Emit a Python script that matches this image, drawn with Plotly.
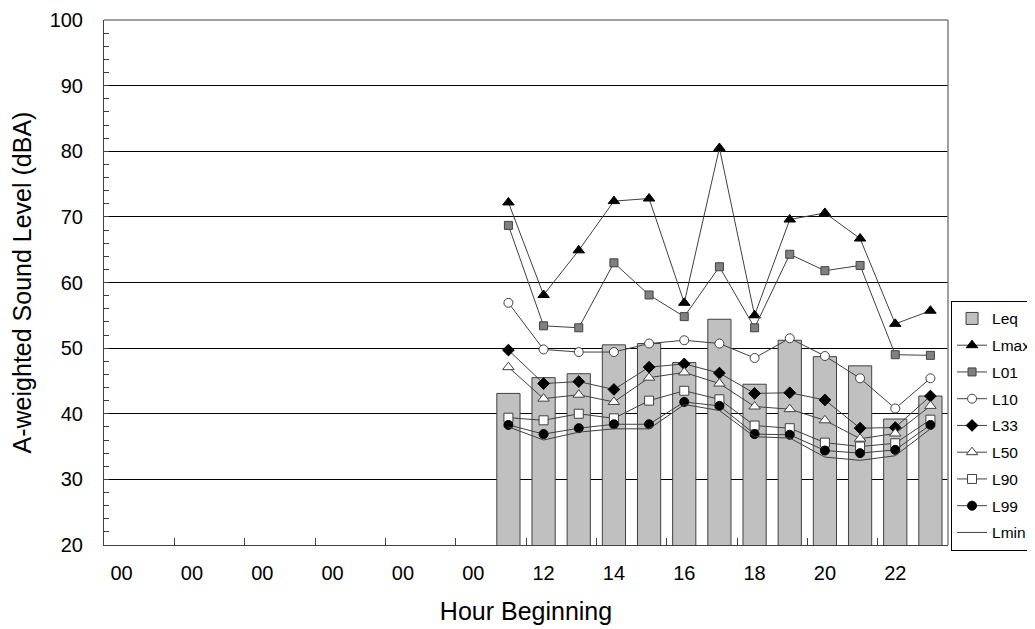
import plotly.graph_objects as go

hours = list(range(11, 24))
tick_positions = list(range(0, 24, 2))
tick_labels = ["00", "00", "00", "00", "00", "00", "12", "14", "16", "18", "20", "22"]

leq = [43.1, 45.5, 46.1, 50.5, 50.7, 47.8, 54.4, 44.5, 51.2, 48.7, 47.3, 39.2, 42.7]
lmax = [72.2, 58.1, 64.9, 72.4, 72.8, 56.9, 80.5, 55.0, 69.6, 70.6, 66.7, 53.7, 55.7]
l01 = [68.7, 53.4, 53.1, 63.0, 58.1, 54.8, 62.4, 53.1, 64.3, 61.8, 62.6, 49.0, 48.9]
l10 = [56.9, 49.8, 49.4, 49.4, 50.7, 51.2, 50.7, 48.5, 51.5, 48.8, 45.4, 40.8, 45.4]
l33 = [49.7, 44.6, 44.9, 43.7, 47.1, 47.6, 46.2, 43.1, 43.2, 42.1, 37.8, 37.9, 42.7]
l50 = [47.1, 42.3, 42.9, 41.8, 45.5, 46.3, 44.6, 41.1, 40.7, 39.0, 36.2, 37.0, 41.2]
l90 = [39.4, 39.0, 40.0, 39.3, 42.0, 43.5, 42.2, 38.2, 37.8, 35.6, 35.0, 35.5, 39.1]
l99 = [38.3, 36.9, 37.8, 38.4, 38.4, 41.8, 41.2, 36.9, 36.8, 34.4, 34.0, 34.5, 38.3]
lmin = [38.0, 36.0, 37.2, 37.7, 37.7, 41.4, 40.5, 36.5, 36.3, 33.4, 32.9, 33.6, 37.7]

LINE = "#404040"
fig = go.Figure()

fig.add_trace(go.Bar(
    x=hours, y=leq, name="Leq", width=0.66,
    marker=dict(color="#c0c0c0", line=dict(color="#404040", width=1)),
    legendgroup="a",
))

series = [
    ("Lmax", lmax, "triangle-up", "#000000", "#000000", 10),
    ("L01", l01, "square", "#808080", "#404040", 8),
    ("L10", l10, "circle", "#ffffff", "#404040", 9),
    ("L33", l33, "diamond", "#000000", "#000000", 9),
    ("L50", l50, "triangle-up", "#ffffff", "#404040", 10),
    ("L90", l90, "square", "#ffffff", "#404040", 9),
    ("L99", l99, "circle", "#000000", "#000000", 9),
]
for i, (name, vals, sym, fill, edge, size) in enumerate(series):
    fig.add_trace(go.Scatter(
        x=hours, y=vals, name=name, mode="lines+markers",
        line=dict(color=LINE, width=1),
        marker=dict(symbol=sym, color=fill, size=size, line=dict(color=edge, width=1)),
        legendgroup="g%d" % i,
    ))

fig.add_trace(go.Scatter(
    x=hours, y=lmin, name="Lmin", mode="lines",
    line=dict(color=LINE, width=1), legendgroup="z",
))

fig.update_layout(
    width=1035, height=629,
    margin=dict(l=96, r=95, t=12, b=92, autoexpand=False),
    paper_bgcolor="white", plot_bgcolor="white",
    font=dict(family="Liberation Sans, Arial, sans-serif", color="#000000"),
    showlegend=True,
    legend=dict(
        x=1.0036, xanchor="left", y=0.465, yanchor="top",
        bgcolor="white", bordercolor="#000000", borderwidth=1,
        font=dict(size=15.5, color="#000000"),
        traceorder="grouped", tracegroupgap=3.6,
        itemwidth=30,
    ),
)

fig.update_xaxes(
    range=[-0.5, 23.5], tickmode="array", tickvals=tick_positions, ticktext=tick_labels,
    ticks="", showgrid=False, zeroline=False, automargin=False,
    showline=True, linecolor="#404040", linewidth=1, mirror=False,
    tickfont=dict(size=20), ticklabelstandoff=10,
    minor=dict(tickmode="array", tickvals=[x + 1.5 for x in tick_positions[:-1]],
               ticks="inside", ticklen=7, tickcolor="#404040", showgrid=False),
    title=dict(text="Hour Beginning", font=dict(size=25), standoff=19),
)
fig.update_yaxes(
    range=[20, 100], dtick=10, tick0=0, automargin=False,
    showgrid=True, gridcolor="#000000", gridwidth=1, zeroline=False,
    showline=True, linecolor="#404040", linewidth=1,
    ticks="inside", ticklen=5, tickcolor="#404040",
    tickfont=dict(size=20), ticklabelstandoff=16, ticklabeloverflow="allow",
    minor=dict(dtick=2, ticks="inside", ticklen=5, tickcolor="#404040", showgrid=False),
    title=dict(text="A-weighted Sound Level (dBA)", font=dict(size=25), standoff=14),
)

# gray frame on top and right
fig.add_shape(type="line", xref="paper", yref="paper", x0=0, x1=1, y0=1, y1=1,
              line=dict(color="#808080", width=1.5))
fig.add_shape(type="line", xref="paper", yref="paper", x0=1, x1=1, y0=0, y1=1,
              line=dict(color="#808080", width=1.5))

fig.write_html("out.html")
